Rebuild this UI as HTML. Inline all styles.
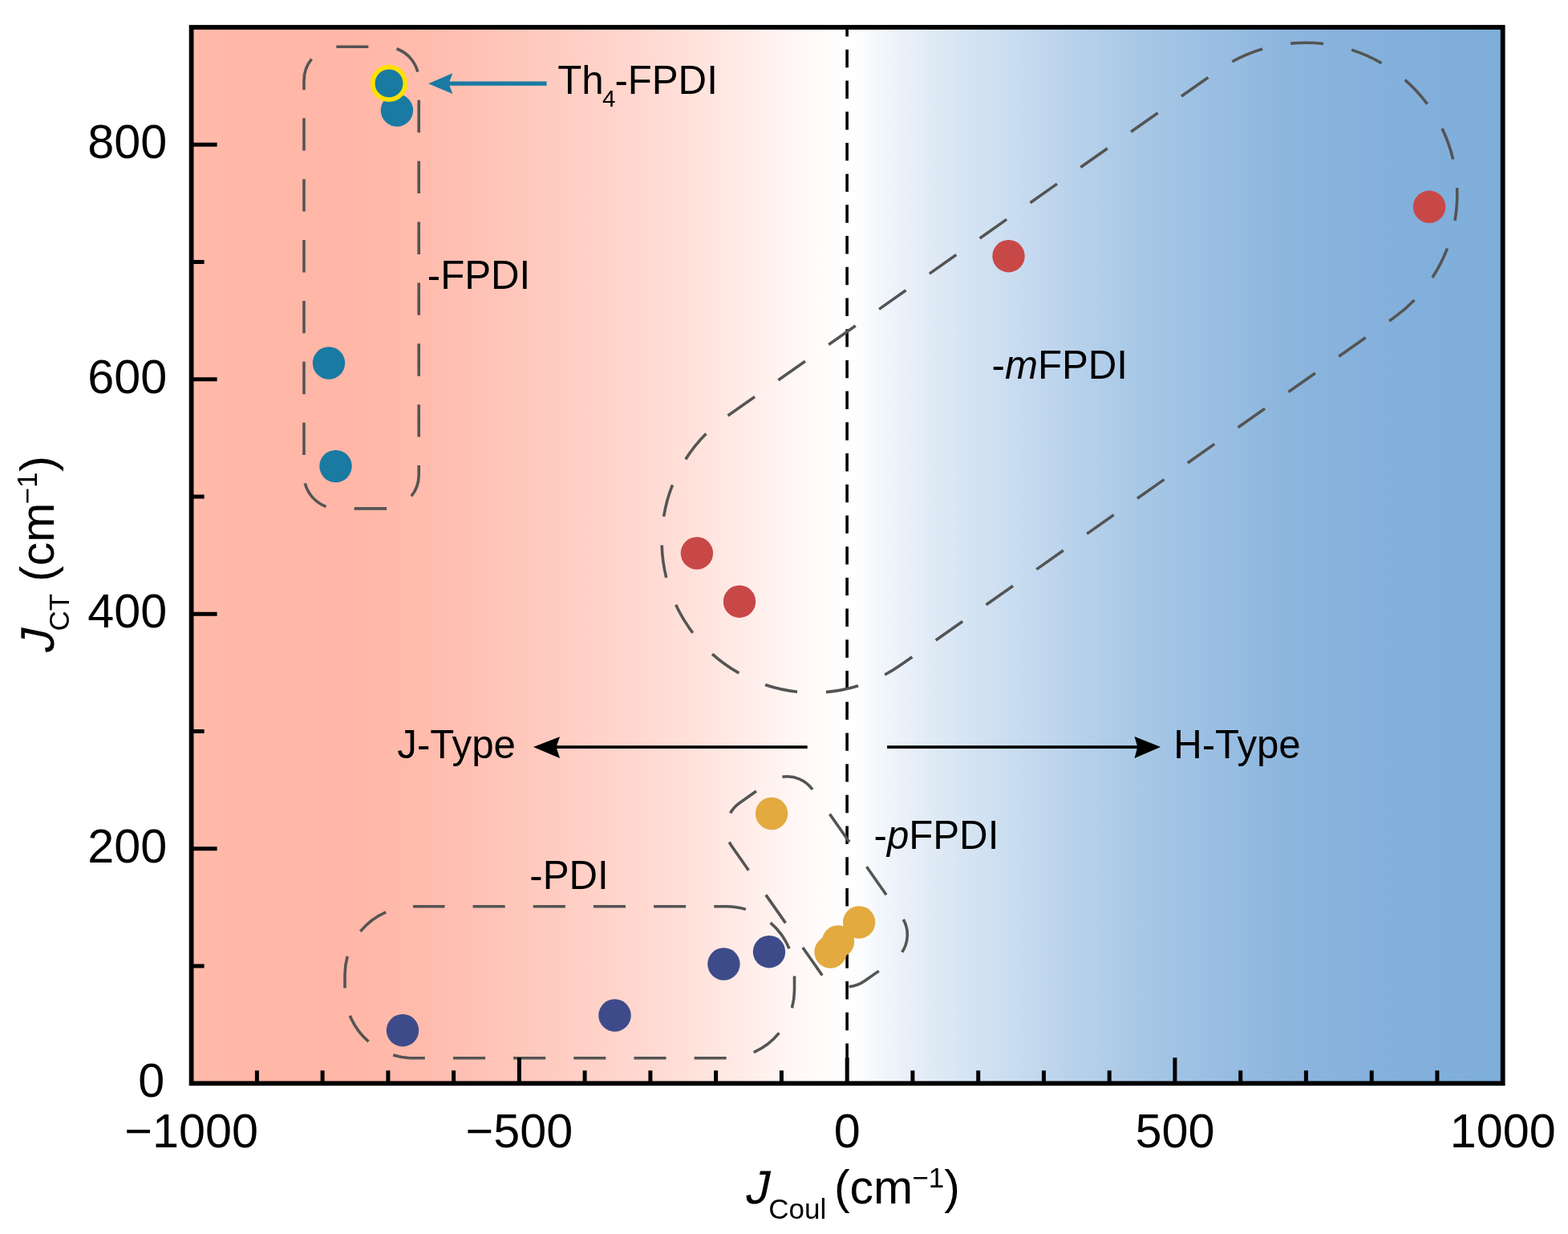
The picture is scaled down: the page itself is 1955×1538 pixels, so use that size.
<!DOCTYPE html>
<html><head><meta charset="utf-8"><title>J_CT vs J_Coul</title><style>html,body{margin:0;padding:0;background:#fff;overflow:hidden}svg{display:block}</style></head><body>
<svg width="1955" height="1538" viewBox="0 0 1955 1538" font-family="&quot;Liberation Sans&quot;, Arial, sans-serif">
<defs><linearGradient id="bg" gradientUnits="userSpaceOnUse" x1="238.6" y1="0" x2="1873.7" y2="0">
<stop offset="0.0015" stop-color="#FFBAAA"/>
<stop offset="0.0376" stop-color="#FFB8A8"/>
<stop offset="0.1109" stop-color="#FFB6A6"/>
<stop offset="0.1721" stop-color="#FFBBAC"/>
<stop offset="0.2333" stop-color="#FFC4B8"/>
<stop offset="0.2944" stop-color="#FFCFC5"/>
<stop offset="0.3433" stop-color="#FFD8D0"/>
<stop offset="0.3892" stop-color="#FFE3DD"/>
<stop offset="0.429" stop-color="#FFEEEA"/>
<stop offset="0.4595" stop-color="#FFF7F5"/>
<stop offset="0.4871" stop-color="#FFFDFC"/>
<stop offset="0.4999" stop-color="#FFFFFF"/>
<stop offset="0.5134" stop-color="#FAFCFE"/>
<stop offset="0.5268" stop-color="#F1F6FB"/>
<stop offset="0.5574" stop-color="#E3ECF7"/>
<stop offset="0.588" stop-color="#D7E5F3"/>
<stop offset="0.6491" stop-color="#C1D7EE"/>
<stop offset="0.7103" stop-color="#ABCAE7"/>
<stop offset="0.7715" stop-color="#9CC0E3"/>
<stop offset="0.8326" stop-color="#8DB6DE"/>
<stop offset="0.8938" stop-color="#85B1DC"/>
<stop offset="0.9549" stop-color="#81AFDB"/>
<stop offset="0.9983" stop-color="#7FAEDA"/>
</linearGradient></defs>
<rect width="1955" height="1538" fill="#fff"/>
<rect x="238.6" y="34.0" width="1635.1" height="1316.3" fill="url(#bg)"/>
<line x1="1056.1" y1="34.0" x2="1056.1" y2="1350.3" stroke="#000" stroke-width="3.6" stroke-dasharray="22.4 16.31" stroke-dashoffset="10.9"/>
<rect x="379.00" y="58.20" width="143.20" height="575.70" rx="42" stroke="#545454" stroke-width="3.6" fill="none" stroke-dasharray="40.440 35.432" stroke-dashoffset="2.1"/>
<rect x="430.00" y="1129.80" width="560.50" height="189.00" rx="85" stroke="#545454" stroke-width="3.6" fill="none" stroke-dasharray="40.066 35.105" stroke-dashoffset="0.6"/>
<rect x="-564.25" y="-189.07" width="1128.50" height="378.14" rx="189.07" transform="translate(1320.96,458.25) rotate(-35.143)" stroke="#545454" stroke-width="3.6" fill="none" stroke-dasharray="40.945 35.875" stroke-dashoffset="-2.75"/>
<rect x="-135.60" y="-61.50" width="271.20" height="123.00" rx="39" transform="translate(1018.4,1098.8) rotate(234.96)" stroke="#545454" stroke-width="3.6" fill="none" stroke-dasharray="42.726 37.435" stroke-dashoffset="3.4"/>
<circle cx="502.0" cy="1284.2" r="20.2" fill="#3E4B8A"/>
<circle cx="766.5" cy="1265.5" r="20.2" fill="#3E4B8A"/>
<circle cx="902.4" cy="1201.5" r="20.2" fill="#3E4B8A"/>
<circle cx="959.0" cy="1186.2" r="20.2" fill="#3E4B8A"/>
<circle cx="962.1" cy="1014.0" r="20.2" fill="#E2AA3F"/>
<circle cx="1071.1" cy="1149.5" r="20.2" fill="#E2AA3F"/>
<circle cx="1045.0" cy="1173.5" r="20.2" fill="#E2AA3F"/>
<circle cx="1035.5" cy="1186.5" r="20.2" fill="#E2AA3F"/>
<circle cx="868.9" cy="689.5" r="20.2" fill="#C84848"/>
<circle cx="922.0" cy="749.7" r="20.2" fill="#C84848"/>
<circle cx="1257.5" cy="319.2" r="20.2" fill="#C84848"/>
<circle cx="1782.1" cy="257.8" r="20.2" fill="#C84848"/>
<circle cx="494.9" cy="137.5" r="20.2" fill="#197AA2"/>
<circle cx="410.0" cy="452.5" r="20.2" fill="#197AA2"/>
<circle cx="418.5" cy="581.1" r="20.2" fill="#197AA2"/>
<circle cx="485.0" cy="103.9" r="20.3" fill="#197AA2" stroke="#FFE000" stroke-width="5.7"/>
<line x1="558" y1="104.2" x2="681.6" y2="104.2" stroke="#197AA2" stroke-width="5.3"/>
<path d="M534.1,104.2 L564.4,91.3 L559.5,104.2 L564.4,117.1 Z" fill="#197AA2"/>
<line x1="692" y1="931.1" x2="1006.7" y2="931.1" stroke="#000" stroke-width="3.6"/>
<path d="M665,931.1 L698,918.2 L693.5,931.1 L698,945.1 Z" fill="#000"/>
<line x1="1106.1" y1="931.1" x2="1420" y2="931.1" stroke="#000" stroke-width="3.6"/>
<path d="M1447.1,931.1 L1414.5,917.9 L1418.3,931.1 L1414.5,945.1 Z" fill="#000"/>
<rect x="238.6" y="34.0" width="1635.1" height="1316.3" fill="none" stroke="#000" stroke-width="5.8"/>
<path d="M320.4,1350.3 V1334.3 M402.1,1350.3 V1334.3 M483.9,1350.3 V1334.3 M565.6,1350.3 V1334.3 M647.4,1350.3 V1318.3 M729.1,1350.3 V1334.3 M810.9,1350.3 V1334.3 M892.6,1350.3 V1334.3 M974.4,1350.3 V1334.3 M1056.2,1350.3 V1318.3 M1137.9,1350.3 V1334.3 M1219.7,1350.3 V1334.3 M1301.4,1350.3 V1334.3 M1383.2,1350.3 V1334.3 M1464.9,1350.3 V1318.3 M1546.7,1350.3 V1334.3 M1628.4,1350.3 V1334.3 M1710.2,1350.3 V1334.3 M1791.9,1350.3 V1334.3 M238.6,1204.0 H254.6 M238.6,1057.8 H270.6 M238.6,911.5 H254.6 M238.6,765.3 H270.6 M238.6,619.0 H254.6 M238.6,472.8 H270.6 M238.6,326.5 H254.6 M238.6,180.3 H270.6" stroke="#000" stroke-width="5"/>
<text x="238.6" y="1430.2" font-size="59.3" text-anchor="middle">−1000</text>
<text x="647.4" y="1430.2" font-size="59.3" text-anchor="middle">−500</text>
<text x="1056.2" y="1430.2" font-size="59.3" text-anchor="middle">0</text>
<text x="1464.9" y="1430.2" font-size="59.3" text-anchor="middle">500</text>
<text x="1873.7" y="1430.2" font-size="59.3" text-anchor="middle">1000</text>
<text x="205.3" y="1367.1" font-size="59.3" text-anchor="end">0</text>
<text x="208.3" y="1074.6" font-size="59.3" text-anchor="end">200</text>
<text x="208.3" y="782.1" font-size="59.3" text-anchor="end">400</text>
<text x="208.3" y="489.6" font-size="59.3" text-anchor="end">600</text>
<text x="208.3" y="197.1" font-size="59.3" text-anchor="end">800</text>
<text transform="translate(927.6,1499.6) skewX(-12)" font-size="59">J</text>
<text y="1499.6" font-size="59"><tspan x="958.2" dy="19.2" font-size="35">Coul</tspan><tspan x="1039.9" dy="-19.2">(cm</tspan><tspan x="1137.2" dy="-20.1" font-size="35">−1</tspan><tspan x="1177.3" dy="20.1">)</tspan></text>
<g transform="translate(66.5,817.0) rotate(-90)"><text transform="translate(1.2,0) skewX(-12)" font-size="59">J</text><text y="0" font-size="59"><tspan x="30.4" dy="19.3" font-size="35">CT</tspan><tspan x="92" dy="-19.3">(cm</tspan><tspan x="188.6" dy="-20.1" font-size="35">−1</tspan><tspan x="229.2" dy="20.1">)</tspan></text></g>
<text y="117.1" font-size="49.2"><tspan x="695.2">Th</tspan><tspan x="751.1" dy="15.7" font-size="29.5">4</tspan><tspan x="766.4" dy="-15.7">-FPDI</tspan></text>
<text x="532.8" y="359.9" font-size="49.2">-FPDI</text>
<text x="1236.6" y="471.7" font-size="49.2">-<tspan font-style="italic">m</tspan>FPDI</text>
<text x="495.3" y="945.4" font-size="49.2">J-Type</text>
<text x="1463.2" y="945.4" font-size="49.2">H-Type</text>
<text x="1089.5" y="1058.4" font-size="49.2">-<tspan font-style="italic">p</tspan>FPDI</text>
<text x="660.3" y="1108.1" font-size="49.2">-PDI</text>
</svg>
</body></html>
